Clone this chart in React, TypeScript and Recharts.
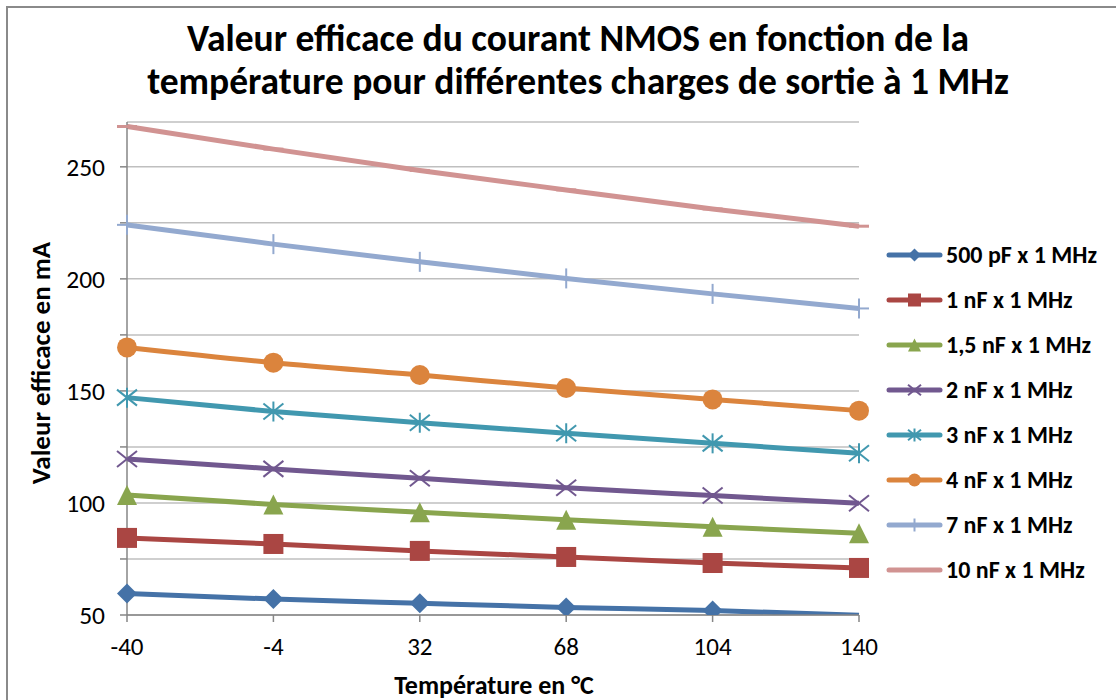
import React from 'react';
import { LineChart, Line, XAxis, YAxis, CartesianGrid } from 'recharts';

const temperatures = [-40, -4, 32, 68, 104, 140];

const c500pF = [59.6, 57.1, 55.2, 53.4, 52.0, 49.9];
const c1nF = [84.4, 81.7, 78.6, 75.9, 73.2, 71.0];
const c15nF = [103.6, 99.3, 95.9, 92.5, 89.4, 86.5];
const c2nF = [119.6, 115.2, 111.0, 106.8, 103.3, 99.9];
const c3nF = [147.0, 140.8, 135.8, 131.1, 126.6, 122.2];
const c4nF = [169.4, 162.6, 157.1, 151.3, 146.2, 141.2];
const c7nF = [224.1, 215.5, 207.6, 200.2, 193.3, 186.8];
const c10nF = [268.0, 257.9, 248.4, 239.7, 231.2, 223.5];

const yTicks = [50, 75, 100, 125, 150, 175, 200, 225, 250];
const Y_MIN = 50;
const Y_MAX = 270;

const FONT = 'Carlito, Calibri, Lato, "Open Sans", sans-serif';

type MarkerKind = 'diamond' | 'square' | 'triangle' | 'x' | 'star' | 'circle' | 'plus' | 'dash';

const series: { key: string; name: string; color: string; marker: MarkerKind; values: number[] }[] = [
  { key: 's1', name: '500 pF x 1 MHz', color: '#4572a7', marker: 'diamond', values: c500pF },
  { key: 's2', name: '1 nF x 1 MHz', color: '#aa4643', marker: 'square', values: c1nF },
  { key: 's3', name: '1,5 nF x 1 MHz', color: '#89a54e', marker: 'triangle', values: c15nF },
  { key: 's4', name: '2 nF x 1 MHz', color: '#71588f', marker: 'x', values: c2nF },
  { key: 's5', name: '3 nF x 1 MHz', color: '#4198af', marker: 'star', values: c3nF },
  { key: 's6', name: '4 nF x 1 MHz', color: '#db843d', marker: 'circle', values: c4nF },
  { key: 's7', name: '7 nF x 1 MHz', color: '#93a9cf', marker: 'plus', values: c7nF },
  { key: 's8', name: '10 nF x 1 MHz', color: '#d19392', marker: 'dash', values: c10nF },
];

const rows = temperatures.map((t, i) => {
  const row: Record<string, number> = { t };
  series.forEach((s) => {
    row[s.key] = s.values[i];
  });
  return row;
});

const Marker = ({ kind, cx, cy, size, color }: { kind: MarkerKind; cx: number; cy: number; size: number; color: string }) => {
  const h = size / 2;
  switch (kind) {
    case 'diamond':
      return <polygon points={`${cx},${cy - h} ${cx + h},${cy} ${cx},${cy + h} ${cx - h},${cy}`} fill={color} />;
    case 'square':
      return <rect x={cx - h} y={cy - h} width={size} height={size} fill={color} />;
    case 'triangle':
      return <polygon points={`${cx},${cy - h} ${cx + h},${cy + h} ${cx - h},${cy + h}`} fill={color} />;
    case 'x':
      return (
        <g stroke={color} strokeWidth={2}>
          <line x1={cx - h} y1={cy - h * 0.8} x2={cx + h} y2={cy + h * 0.8} />
          <line x1={cx - h} y1={cy + h * 0.8} x2={cx + h} y2={cy - h * 0.8} />
        </g>
      );
    case 'star':
      return (
        <g stroke={color} strokeWidth={2}>
          <line x1={cx - h} y1={cy - h * 0.8} x2={cx + h} y2={cy + h * 0.8} />
          <line x1={cx - h} y1={cy + h * 0.8} x2={cx + h} y2={cy - h * 0.8} />
          <line x1={cx} y1={cy - h} x2={cx} y2={cy + h} />
        </g>
      );
    case 'circle':
      return <circle cx={cx} cy={cy} r={h} fill={color} />;
    case 'plus':
      return (
        <g stroke={color} strokeWidth={2}>
          <line x1={cx} y1={cy - h} x2={cx} y2={cy + h} />
          <line x1={cx - h} y1={cy} x2={cx + h} y2={cy} />
        </g>
      );
    case 'dash':
      return <line x1={cx - h} y1={cy} x2={cx + h} y2={cy} stroke={color} strokeWidth={3} />;
    default:
      return null;
  }
};

const App: React.FC = () => {
  return (
    <div style={{ position: 'absolute', left: 0, top: 0, width: 1116, height: 700, overflow: 'hidden', background: '#fff', fontFamily: FONT }}>
      {/* chart frame */}
      <div style={{ position: 'absolute', left: 6, top: 6, width: 1200, height: 800, border: '2px solid #8a8a8a' }} />

      <div style={{ position: 'absolute', left: 40, top: 17, width: 1076, textAlign: 'center', fontWeight: 700, fontSize: 37.5, lineHeight: '43px', color: '#000' }}>
        Valeur efficace du courant NMOS en fonction de la
        <br />
        température pour différentes charges de sortie à 1 MHz
      </div>

      <div style={{ position: 'absolute', left: 40, top: 363, transform: 'translate(-50%, -50%) rotate(-90deg)', whiteSpace: 'nowrap', fontWeight: 700, fontSize: 27, color: '#000' }}>
        Valeur efficace en mA
      </div>

      <div style={{ position: 'absolute', left: 494, top: 670, whiteSpace: 'nowrap', transform: 'translateX(-50%)', fontWeight: 700, fontSize: 26, lineHeight: '30px', color: '#000' }}>
        Température en °C
      </div>

      <div style={{ position: 'absolute', left: 0, top: 0 }}>
        <LineChart width={1116} height={700} data={rows} margin={{ top: 122, right: 257, bottom: 45, left: 57 }}>
          <CartesianGrid vertical={false} stroke="#bfbfbf" strokeWidth={1.5} />
          <XAxis
            dataKey="t"
            type="number"
            domain={[-40, 140]}
            ticks={temperatures}
            height={40}
            tickSize={7}
            tickMargin={15}
            stroke="#868686"
            strokeWidth={1.5}
            tick={{ fill: '#000', fontSize: 25, fontFamily: FONT }}
          />
          <YAxis
            type="number"
            domain={[Y_MIN, Y_MAX]}
            allowDataOverflow
            ticks={yTicks}
            interval={0}
            width={70}
            tickSize={7}
            tickMargin={15}
            stroke="#868686"
            strokeWidth={1.5}
            tickFormatter={(v: number) => (v % 50 === 0 ? String(v) : '')}
            tick={{ fill: '#000', fontSize: 25.5, fontFamily: FONT }}
          />
          {series.map((s) => (
            <Line
              key={s.key}
              dataKey={s.key}
              name={s.name}
              type="monotone"
              stroke={s.color}
              strokeWidth={5}
              isAnimationActive={false}
              activeDot={false}
              dot={(p: any) =>
                p.value < Y_MIN ? (
                  <g key={`${s.key}-${p.index}`} />
                ) : (
                  <g key={`${s.key}-${p.index}`}>
                    <Marker kind={s.marker} cx={p.cx} cy={p.cy} size={20} color={s.color} />
                  </g>
                )
              }
            />
          ))}
        </LineChart>
      </div>

      {/* legend */}
      <svg style={{ position: 'absolute', left: 0, top: 0 }} width={1116} height={700}>
        {series.map((s, i) => {
          const y = 255 + i * 45;
          return (
            <g key={s.key}>
              <line x1={889} x2={940} y1={y} y2={y} stroke={s.color} strokeWidth={5} strokeLinecap="round" />
              <Marker kind={s.marker} cx={914.5} cy={y} size={13} color={s.color} />
              <text x={946} y={y} dy="0.35em" fontSize={24} fontWeight={700} fontFamily={FONT} fill="#000">
                {s.name}
              </text>
            </g>
          );
        })}
      </svg>
    </div>
  );
};

export default App;
